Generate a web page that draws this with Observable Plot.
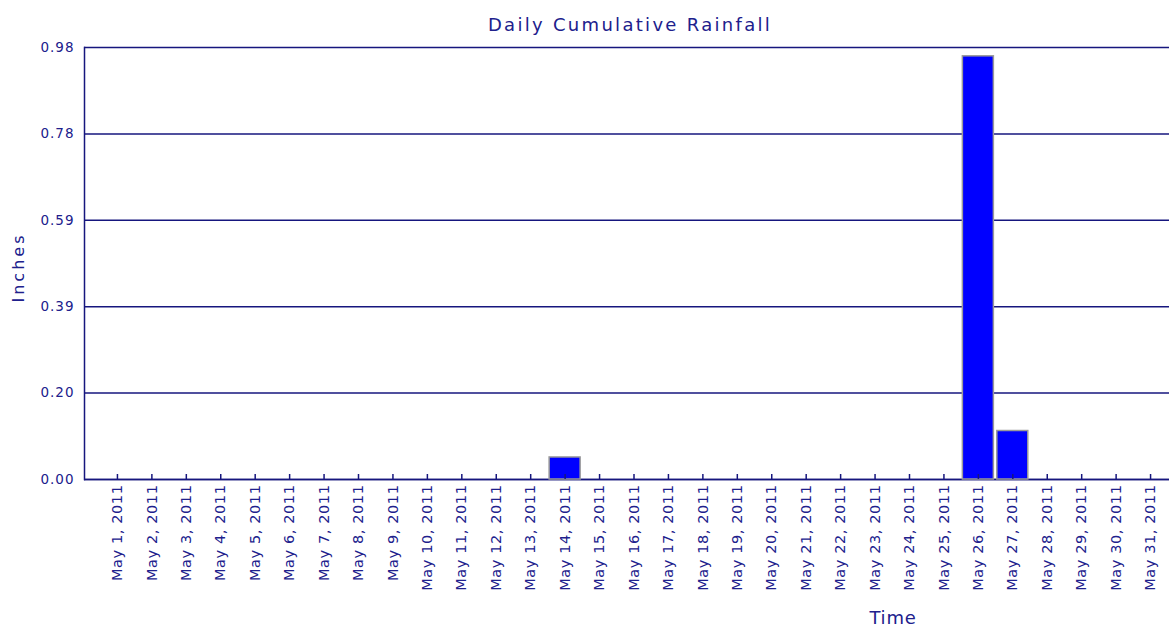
<!DOCTYPE html>
<html>
<head>
<meta charset="utf-8">
<script src="https://cdn.jsdelivr.net/npm/d3@7"></script>
<script src="https://cdn.jsdelivr.net/npm/@observablehq/plot@0.6"></script>
<style>
  html, body { margin: 0; padding: 0; background: #fff; }
  svg { display: block; }
</style>
</head>
<body>
<div id="chart"></div>
<script>
const days = [
  "May 1, 2011", "May 2, 2011", "May 3, 2011", "May 4, 2011", "May 5, 2011",
  "May 6, 2011", "May 7, 2011", "May 8, 2011", "May 9, 2011", "May 10, 2011",
  "May 11, 2011", "May 12, 2011", "May 13, 2011", "May 14, 2011", "May 15, 2011",
  "May 16, 2011", "May 17, 2011", "May 18, 2011", "May 19, 2011", "May 20, 2011",
  "May 21, 2011", "May 22, 2011", "May 23, 2011", "May 24, 2011", "May 25, 2011",
  "May 26, 2011", "May 27, 2011", "May 28, 2011", "May 29, 2011", "May 30, 2011",
  "May 31, 2011"
];
const rainfall = [
  0, 0, 0, 0, 0, 0, 0, 0, 0, 0,
  0, 0, 0, 0.05, 0, 0, 0, 0, 0, 0,
  0, 0, 0, 0, 0, 0.96, 0.11, 0, 0, 0,
  0
];
const yTicks = [0, 0.196, 0.392, 0.588, 0.784, 0.98];
const title = "Daily Cumulative Rainfall";
const xLabel = "Time";
const yLabel = "Inches";

const data = days.map((d, i) => ({day: d, inches: rainfall[i]}));

const ink = "#20208c";
const gridInk = "#16167e";

const chart = Plot.plot({
  width: 1169,
  height: 628,
  marginTop: 47,
  marginBottom: 149,
  marginLeft: 84,
  marginRight: 0,
  style: {fontFamily: "DejaVu Sans", color: ink, background: "#fff", overflow: "visible"},
  x: {domain: days, insetLeft: 14, padding: 0.1, round: false, label: null},
  y: {domain: [0, 0.98], label: null},
  marks: [
    Plot.gridY(yTicks, {stroke: gridInk, strokeOpacity: 1, strokeWidth: 1.5}),
    Plot.frame({anchor: "left", stroke: gridInk, strokeWidth: 1.5}),
    Plot.ruleY([0], {stroke: gridInk, strokeWidth: 1.5}),
    Plot.barY(data, {x: "day", y: "inches", fill: "#0000ff", stroke: "#9a9a9a", strokeWidth: 1.5}),
    Plot.axisX({tickSize: -5, tickPadding: 10, tickRotate: -90, fontSize: 14.5, stroke: gridInk, strokeWidth: 1.5, label: null}),
    Plot.axisY(yTicks, {tickSize: 0, tickPadding: 10, tickFormat: d => d.toFixed(2), fontSize: 13.5, label: null}),
    Plot.text([title], {frameAnchor: "top", dx: 3, dy: -29, fontSize: 18, fill: ink}),
    Plot.text([xLabel], {frameAnchor: "bottom", dx: 266, dy: 144, fontSize: 18, fill: ink}),
    Plot.text([yLabel], {frameAnchor: "left", textAnchor: "middle", dx: -66, dy: 4, rotate: -90, fontSize: 16, fill: ink})
  ]
});

document.getElementById("chart").appendChild(chart);
const svg = d3.select(chart);
const spacing = {[title]: "2.3px", [xLabel]: "0.8px", [yLabel]: "3px"};
svg.selectAll("text").each(function () {
  const t = this.textContent;
  if (spacing[t]) this.style.letterSpacing = spacing[t];
  else if (days.includes(t)) this.style.letterSpacing = "0.6px";
  else if (/^\d\.\d\d$/.test(t)) this.style.letterSpacing = "1px";
});
</script>
</body>
</html>
